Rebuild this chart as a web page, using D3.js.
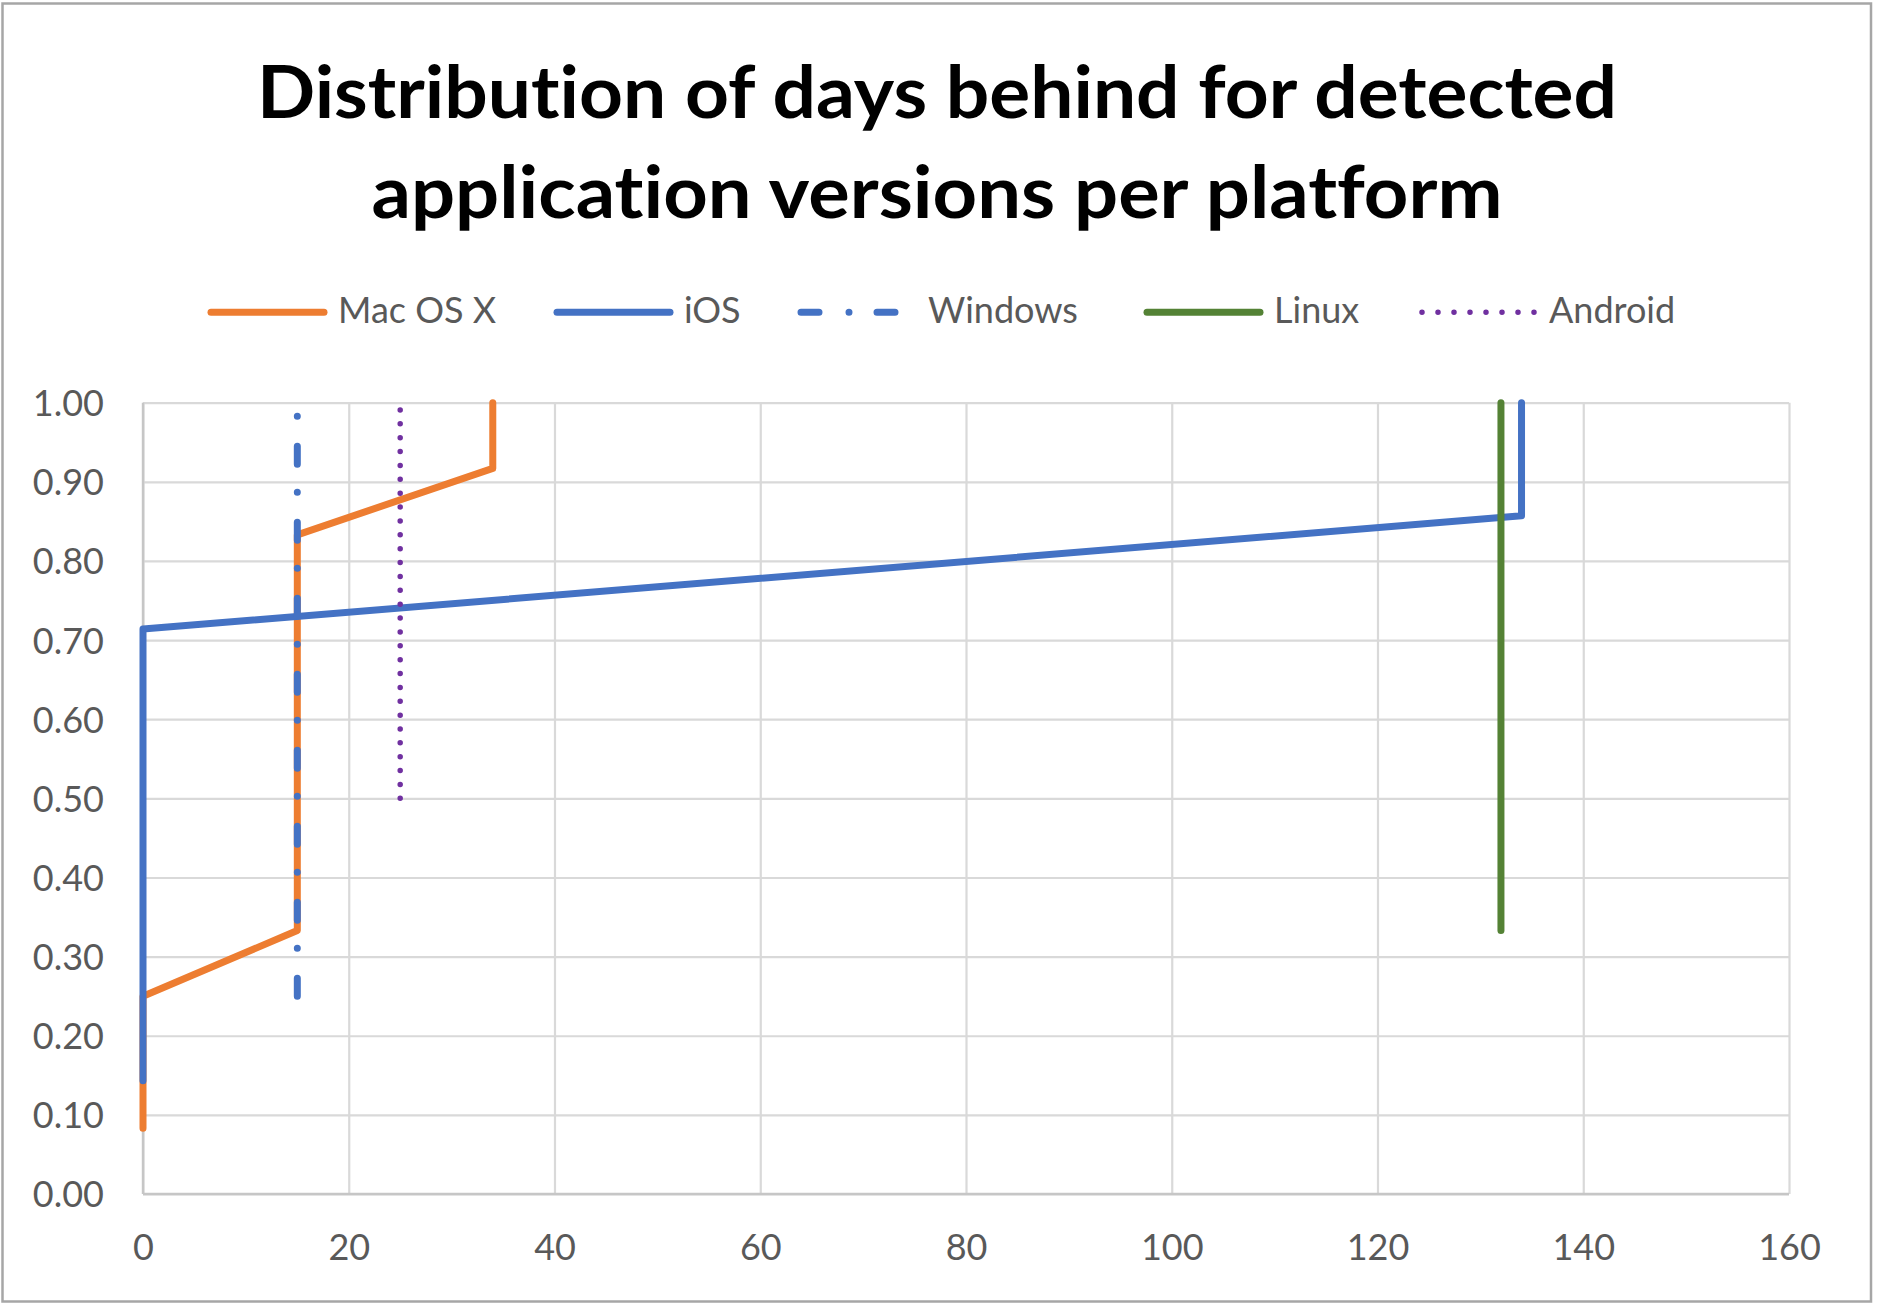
<!DOCTYPE html>
<html>
<head>
<meta charset="utf-8">
<script src="https://cdn.jsdelivr.net/npm/d3@7"></script>
<style>
  html, body { margin: 0; padding: 0; background: #ffffff; }
  svg { display: block; }
  text { font-variant-ligatures: none; font-feature-settings: "liga" 0, "clig" 0; }
</style>
</head>
<body>
<svg id="chart" width="1879" height="1310"></svg>
<script>
// ---------------- data ----------------
const titleLines = ["Distribution of days behind for detected", "application versions per platform"];
const categories = ["Mac OS X", "iOS", "Windows", "Linux", "Android"];

const macDays = [0, 0, 15, 15, 34, 34];
const macShare = [0.083, 0.25, 0.333, 0.833, 0.917, 1.0];

const iosDays = [0, 0, 134, 134];
const iosShare = [0.143, 0.714, 0.857, 1.0];

const windowsDays = [15, 15];
const windowsShare = [0.25, 1.0];

const linuxDays = [132, 132];
const linuxShare = [0.333, 1.0];

const androidDays = [25, 25];
const androidShare = [0.5, 1.0];

const xTickValues = [0, 20, 40, 60, 80, 100, 120, 140, 160];
const yTickValues = [0, 0.1, 0.2, 0.3, 0.4, 0.5, 0.6, 0.7, 0.8, 0.9, 1.0];

// ---------------- layout / style ----------------
const plot = { left: 143, right: 1789, top: 402.7, bottom: 1194 };
const FONT = "Lato, 'Open Sans', sans-serif";
const TEXT_GRAY = "#595959";
const legendStarts = [211, 557, 801, 1147, 1422];

const styles = {
  "Mac OS X": { color: "#ED7D31", width: 7, dash: null, legendDash: null },
  "iOS":      { color: "#4472C4", width: 7, dash: null, legendDash: null },
  "Windows":  { color: "#4472C4", width: 7, dash: "18,30,0,28", legendDash: "18,30,0,28" },
  "Linux":    { color: "#548235", width: 7, dash: null, legendDash: null },
  "Android":  { color: "#7030A0", width: 5.5, dash: "0,13.87", legendDash: "0,16" }
};

const seriesData = [
  { name: categories[0], xs: macDays, ys: macShare },
  { name: categories[1], xs: iosDays, ys: iosShare },
  { name: categories[2], xs: windowsDays, ys: windowsShare },
  { name: categories[3], xs: linuxDays, ys: linuxShare },
  { name: categories[4], xs: androidDays, ys: androidShare }
].map(s => ({ name: s.name, points: s.xs.map((x, i) => [x, s.ys[i]]) }));

const svg = d3.select("#chart");

// frame
svg.append("rect")
  .attr("x", 2.5).attr("y", 3.5)
  .attr("width", 1868.5).attr("height", 1298)
  .attr("fill", "#ffffff")
  .attr("stroke", "#a6a6a6")
  .attr("stroke-width", 2.5);

// title
const titleY = [117.5, 218];
const titleWidths = [1360, 1131];
titleLines.forEach((t, i) => {
  svg.append("text")
    .attr("x", 937)
    .attr("y", titleY[i])
    .attr("text-anchor", "middle")
    .attr("font-family", FONT)
    .attr("font-weight", 700)
    .attr("font-size", 72)
    .attr("fill", "#000000")
    .attr("textLength", titleWidths[i])
    .attr("lengthAdjust", "spacingAndGlyphs")
    .text(t);
});

// scales
const x = d3.scaleLinear().domain([0, 160]).range([plot.left, plot.right]);
const y = d3.scaleLinear().domain([0, 1]).range([plot.bottom, plot.top]);

const plotW = plot.right - plot.left;
const plotH = plot.bottom - plot.top;

const yAxis = d3.axisLeft(y)
  .tickValues(yTickValues)
  .tickFormat(d3.format(".2f"))
  .tickSizeInner(-plotW)
  .tickSizeOuter(0)
  .tickPadding(39);

const gy = svg.append("g")
  .attr("transform", `translate(${plot.left},0)`)
  .call(yAxis);
gy.select(".domain").remove();
gy.selectAll(".tick line")
  .attr("stroke", "#d9d9d9")
  .attr("stroke-width", 2.2);
gy.selectAll(".tick text")
  .attr("font-family", FONT)
  .attr("font-size", 36)
  .attr("fill", TEXT_GRAY)
  .attr("dy", "0.36em");

const xAxis = d3.axisBottom(x)
  .tickValues(xTickValues)
  .tickFormat(d3.format("d"))
  .tickSizeInner(-plotH)
  .tickSizeOuter(0)
  .tickPadding(40);

const gx = svg.append("g")
  .attr("transform", `translate(0,${plot.bottom})`)
  .call(xAxis);
gx.select(".domain").remove();
gx.selectAll(".tick line")
  .attr("stroke", "#d9d9d9")
  .attr("stroke-width", 2.2);
gx.selectAll(".tick text")
  .attr("font-family", FONT)
  .attr("font-size", 36)
  .attr("fill", TEXT_GRAY);

// axis lines
svg.append("line")
  .attr("x1", x(0)).attr("x2", x(0))
  .attr("y1", y(0)).attr("y2", y(1))
  .attr("stroke", "#c6c6c6").attr("stroke-width", 2.4);
svg.append("line")
  .attr("x1", x(0)).attr("x2", x(160))
  .attr("y1", y(0)).attr("y2", y(0))
  .attr("stroke", "#c6c6c6").attr("stroke-width", 2.4);

// series
const line = d3.line().x(d => x(d[0])).y(d => y(d[1]));
svg.append("g").selectAll("path")
  .data(seriesData)
  .join("path")
  .attr("d", d => line(d.points))
  .attr("fill", "none")
  .attr("stroke", d => styles[d.name].color)
  .attr("stroke-width", d => styles[d.name].width)
  .attr("stroke-dasharray", d => styles[d.name].dash)
  .attr("stroke-linecap", "round")
  .attr("stroke-linejoin", "round");

// legend
const legendY = 312.3;
const legend = svg.append("g");
categories.forEach((name, i) => {
  const st = styles[name];
  const lx = legendStarts[i];
  legend.append("line")
    .attr("x1", lx).attr("x2", lx + 113)
    .attr("y1", legendY).attr("y2", legendY)
    .attr("stroke", st.color)
    .attr("stroke-width", st.width)
    .attr("stroke-dasharray", st.legendDash)
    .attr("stroke-linecap", "round");
  legend.append("text")
    .attr("x", lx + 127)
    .attr("y", legendY + 11)
    .attr("font-family", FONT)
    .attr("font-size", 36)
    .attr("fill", TEXT_GRAY)
    .text(name);
});
</script>
</body>
</html>
